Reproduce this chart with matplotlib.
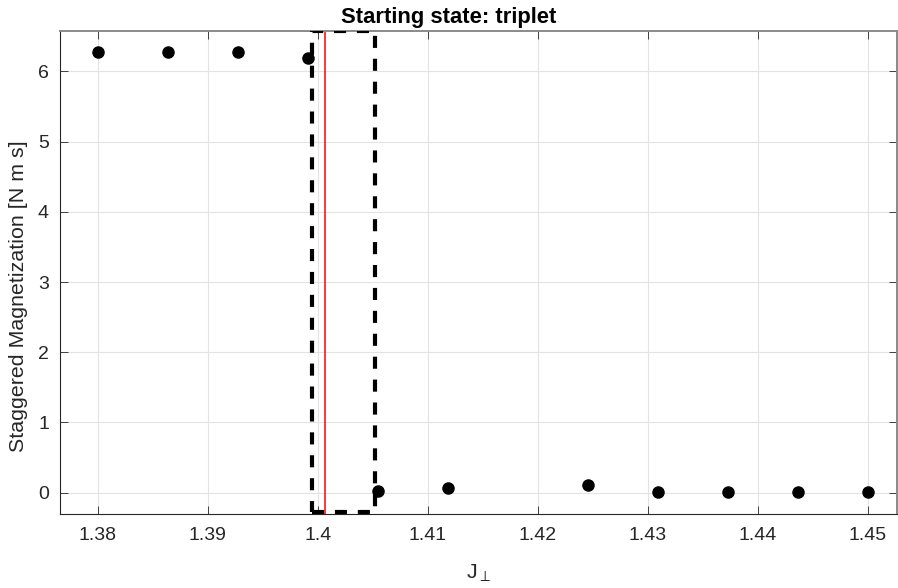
import matplotlib.pyplot as plt
from matplotlib.patches import Rectangle

plt.rcParams['font.family'] = ['Liberation Sans', 'DejaVu Sans']
plt.rcParams['mathtext.fontset'] = 'custom'
plt.rcParams['mathtext.rm'] = 'Liberation Sans'
plt.rcParams['mathtext.it'] = 'Liberation Sans'

# data
j_perp = [1.38, 1.38636, 1.39273, 1.39909, 1.40545, 1.41182,
          1.42455, 1.43091, 1.43727, 1.44364, 1.45]
stag_mag = [6.27, 6.27, 6.27, 6.19, 0.03, 0.07,
            0.11, 0.01, 0.01, 0.01, 0.01]
transition = 1.40066
box_x = [1.39947, 1.40520]
box_y = [-0.27, 6.57]
xticks = [1.38, 1.39, 1.40, 1.41, 1.42, 1.43, 1.44, 1.45]
xticklabels = ['1.38', '1.39', '1.4', '1.41', '1.42', '1.43', '1.44', '1.45']
yticks = [0, 1, 2, 3, 4, 5, 6]

fig = plt.figure(figsize=(8.98, 5.88), dpi=100)
ax = fig.add_axes([60/898, 1 - 514/588, 837/898, 483/588])

ax.plot(j_perp, stag_mag, 'o', color='black', markersize=8, zorder=3)
ax.axvline(transition, color='red', linewidth=1.1, zorder=2)
ax.add_patch(Rectangle((box_x[0], box_y[0]), box_x[1] - box_x[0], box_y[1] - box_y[0],
                       fill=False, edgecolor='black', linewidth=3, linestyle=(0, (2.9, 2.6)),
                       zorder=4, clip_on=True))

ax.set_xlim(1.37657, 1.45266)
ax.set_ylim(-0.303, 6.574)
ax.set_xticks(xticks)
ax.set_xticklabels(xticklabels)
ax.set_yticks(yticks)
ax.grid(True, color='#e3e3e3', linewidth=0.8)
ax.set_axisbelow(True)
ax.tick_params(direction='in', length=6, width=0.6, colors='#262626', labelsize=14,
               top=True, right=True)
ax.tick_params(axis='x', pad=9)
ax.tick_params(axis='y', pad=8)
for side in ['left', 'bottom']:
    ax.spines[side].set_color('#262626')
    ax.spines[side].set_linewidth(0.8)
for side in ['top', 'right']:
    ax.spines[side].set_color('#8a8a8a')
    ax.spines[side].set_linewidth(1.4)

ax.set_title('Starting state: triplet', fontsize=15.8, fontweight='bold', pad=5.5, x=0.464)
ax.set_xlabel(r'J$_{\perp}$', fontsize=15.4, color='#262626', labelpad=14)
ax.set_ylabel('Staggered Magnetization [N m s]', fontsize=15.4, color='#262626')
ax.yaxis.set_label_coords(-0.038, 0.451)

fig.savefig('out.png', dpi=100)
